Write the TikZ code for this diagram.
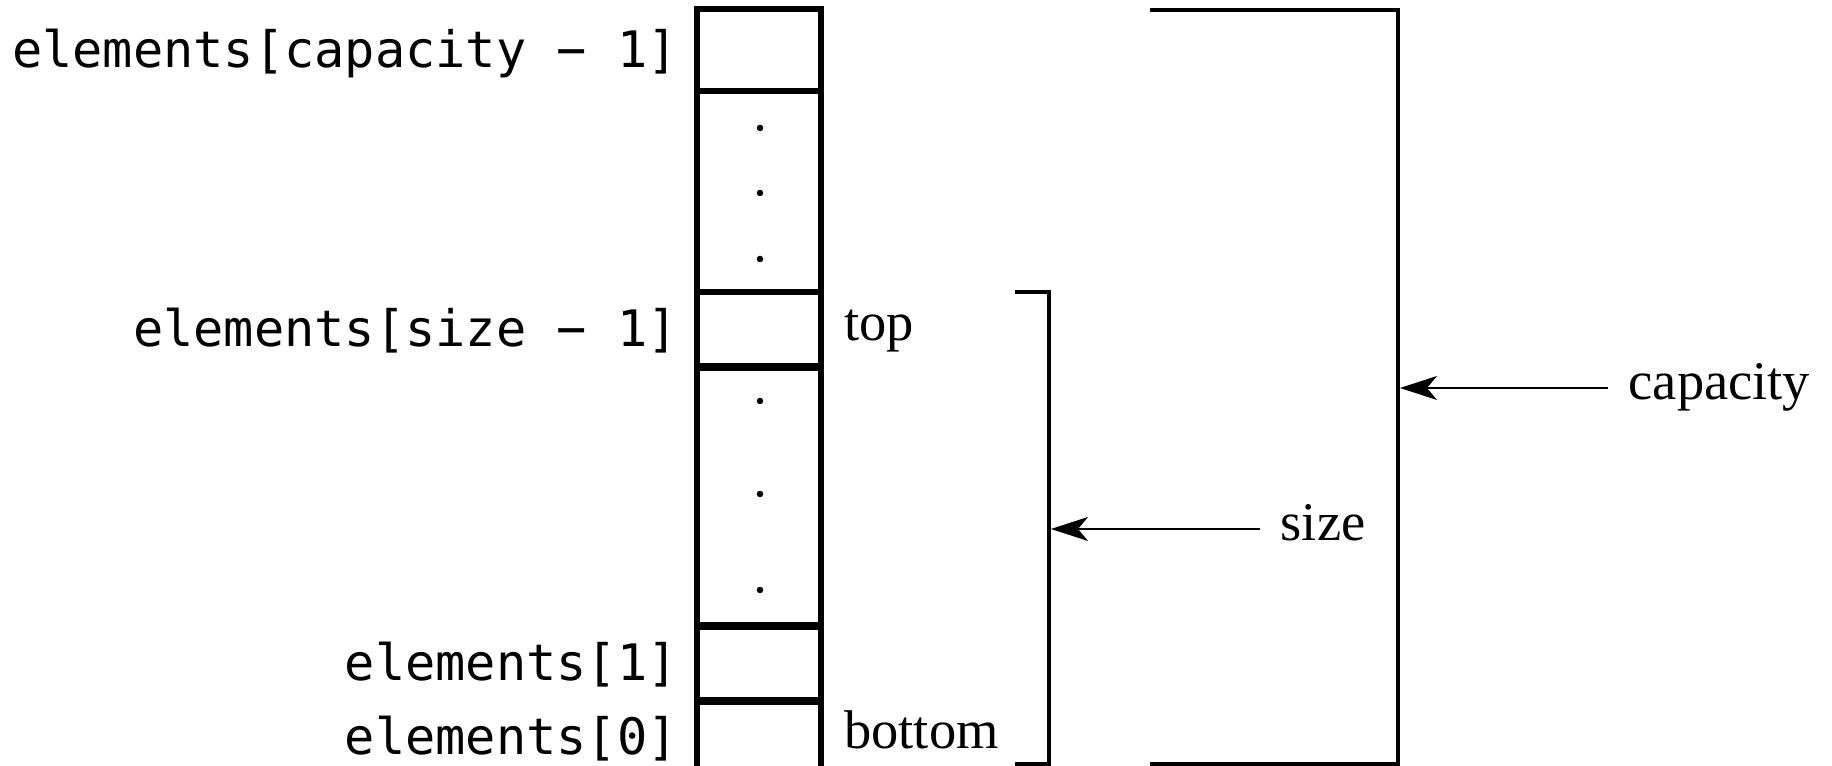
\documentclass[tikz,border=0pt]{standalone}
\usepackage{fontspec}
\setmainfont{Liberation Serif}
\setmonofont{DejaVu Sans Mono}
\usepackage{tikz}
\usetikzlibrary{positioning, arrows.meta}
\tikzset{
>={Stealth[length=3.7mm, width=2.4mm, inset=1mm]}, % concave arrow heads
cell/.style={draw, line width=1.45pt, minimum width=1.24cm, inner sep=0pt}, % one slot of the array
gapdot/.style={circle, fill, inner sep=0pt, minimum size=.65mm}, % dots for the left-out slots
slotname/.style={font=\fontsize{14.3}{16}\selectfont\ttfamily, inner sep=0pt, text height=.36cm, text depth=0pt}, % names of the slots
tag/.style={font=\fontsize{15.5}{18}\selectfont, inner xsep=.2cm, inner ysep=0pt, text height=.24cm, text depth=0pt}, % serif labels
brace/.style={line width=1.35pt}, % the two brackets
}

\begin{document}
\begin{tikzpicture}
    \useasboundingbox (0,0) rectangle (18.32,7.66);
    \node[cell, minimum height=.82cm] at (7.59,7.16) (c4) {};
    \node[cell, minimum height=2.01cm] at (7.59,5.745) (g1) {};
    \node[cell, minimum height=.74cm] at (7.59,4.37) (c3) {};
    \node[cell, minimum height=2.59cm] at (7.59,2.685) (g2) {};
    \node[cell, minimum height=.75cm] at (7.59,1.035) (c1) {};
    \node[cell, minimum height=.69cm] at (7.59,.295) (c0) {};
    \node[gapdot] at (7.60,6.38) (d1) {};
    \node[gapdot] at (7.60,5.73) (d2) {};
    \node[gapdot] at (7.60,5.07) (d3) {};
    \node[gapdot] at (7.60,3.65) (d4) {};
    \node[gapdot] at (7.60,2.72) (d5) {};
    \node[gapdot] at (7.60,1.76) (d6) {};
    \node[slotname, left=.16cm of c4] (n4) {elements[capacity − 1]};
    \node[slotname, left=.16cm of c3] (n3) {elements[size − 1]};
    \node[slotname, left=.16cm of c1] (n1) {elements[1]};
    \node[slotname, left=.16cm of c0] (n0) {elements[0]};
    \node[tag, right=0cm of c3] (top) {top};
    \node[tag, right=0cm of c0] (bot) {bottom};
    \node[tag, anchor=west] at (12.60,2.37) (sz) {size};
    \node[tag, anchor=west] at (16.08,3.78) (cap) {capacity};
    \coordinate (sztop) at (10.15,4.74);
    \coordinate (szbot) at (10.49,.02);
    \coordinate (szmid) at (10.51,2.37);
    \coordinate (captop) at (11.50,7.56);
    \coordinate (capbot) at (13.98,.02);
    \coordinate (capmid) at (14.00,3.78);
    \draw[brace] (sztop) -| (szbot) -- ++(-.34,0);
    \draw[brace] (captop) -| (capbot) -- ++(-2.48,0);
    \draw[line width=.4pt]
    (sz) edge[->] (szmid)
    (cap) edge[->] (capmid)
    ;
\end{tikzpicture}
\end{document}
